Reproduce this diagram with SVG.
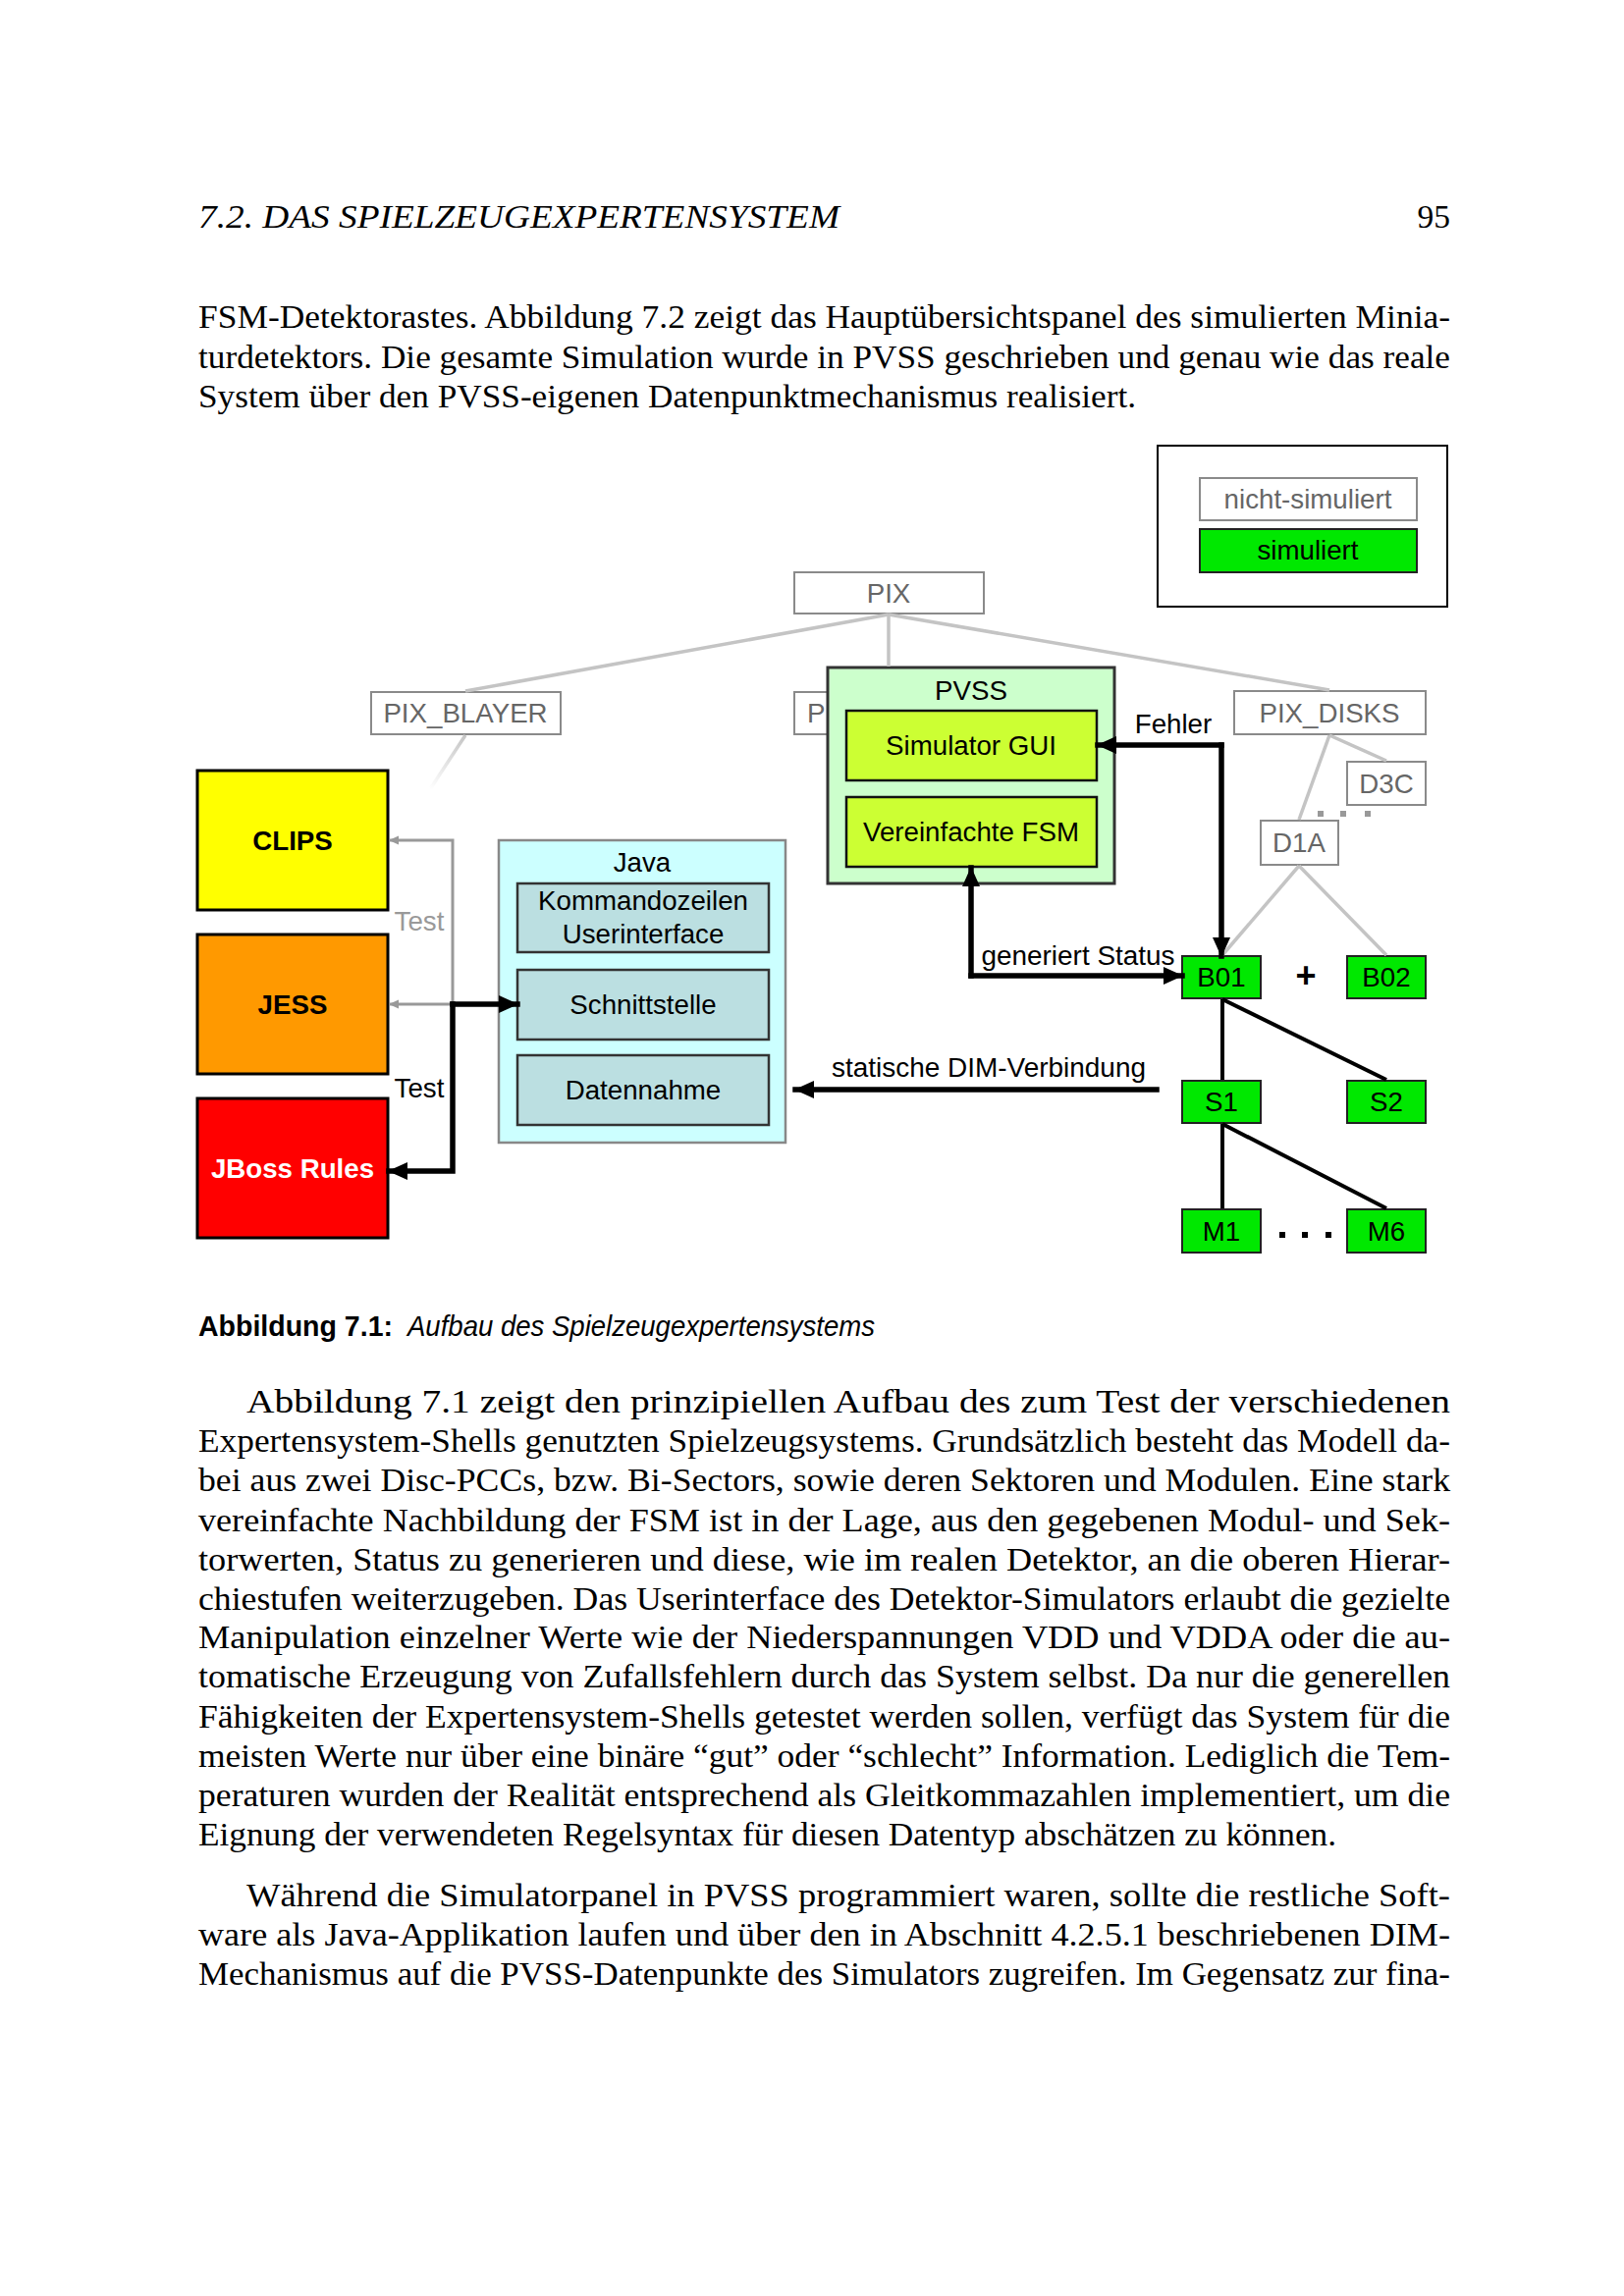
<svg xmlns="http://www.w3.org/2000/svg" width="1654" height="2339" viewBox="0 0 1654 2339">
<style>
.body{font-family:"Liberation Serif","DejaVu Serif",serif;font-size:33.5px;fill:#000}
.hdr{font-family:"Liberation Serif","DejaVu Serif",serif;font-size:33.5px;font-style:italic;fill:#000}
.capb{font-family:"Liberation Sans","DejaVu Sans",sans-serif;font-size:30px;font-weight:bold;fill:#000}
.capi{font-family:"Liberation Sans","DejaVu Sans",sans-serif;font-size:30px;font-style:italic;fill:#000}
.lbl{font-family:"Liberation Sans","DejaVu Sans",sans-serif;font-size:27.7px;fill:#000;text-anchor:middle}
.glbl{font-family:"Liberation Sans","DejaVu Sans",sans-serif;font-size:27.7px;fill:#666;text-anchor:middle}
.bl{font-family:"Liberation Sans","DejaVu Sans",sans-serif;font-size:27.7px;font-weight:bold;text-anchor:middle}
.tree{fill:#fff;stroke:#8a8a8a;stroke-width:2}
.grn{fill:#00e800;stroke:#222;stroke-width:2}
.jin{fill:#bbdfe1;stroke:#333;stroke-width:2.5}
.pin{fill:#ccff33;stroke:#111;stroke-width:2.5}
.gl{stroke:#c4c4c4;stroke-width:3.5;fill:none}
.kl{stroke:#000;stroke-width:4;fill:none}
.ka{stroke:#000;stroke-width:5.5;fill:none;stroke-linecap:square}
.ga{stroke:#999;stroke-width:3;fill:none}
</style>
<defs>
<marker id="ah" markerUnits="userSpaceOnUse" viewBox="0 0 20 20" refX="19" refY="10" markerWidth="20" markerHeight="20" orient="auto"><path d="M0,1 L20,10 L0,19 Z" fill="#000"/></marker>
<marker id="gah" markerUnits="userSpaceOnUse" viewBox="0 0 10 10" refX="9" refY="5" markerWidth="10" markerHeight="10" orient="auto"><path d="M0,0.5 L10,5 L0,9.5 Z" fill="#999"/></marker>
<linearGradient id="fade" gradientUnits="userSpaceOnUse" x1="474" y1="748" x2="438" y2="804"><stop offset="0" stop-color="#c4c4c4"/><stop offset="1" stop-color="#c4c4c4" stop-opacity="0"/></linearGradient>
</defs>

<!-- page text -->
<g id="page-header">
<text class="hdr" x="202" y="232" textLength="653" lengthAdjust="spacingAndGlyphs">7.2.  DAS SPIELZEUGEXPERTENSYSTEM</text>
<text class="body" x="1477" y="232" text-anchor="end">95</text>
</g>
<g id="para1">
<text class="body" x="202" y="334" textLength="1275" lengthAdjust="spacingAndGlyphs">FSM-Detektorastes. Abbildung 7.2 zeigt das Hauptübersichtspanel des simulierten Minia-</text>
<text class="body" x="202" y="375" textLength="1275" lengthAdjust="spacingAndGlyphs">turdetektors. Die gesamte Simulation wurde in PVSS geschrieben und genau wie das reale</text>
<text class="body" x="202" y="415" textLength="955" lengthAdjust="spacingAndGlyphs">System über den PVSS-eigenen Datenpunktmechanismus realisiert.</text>
</g>

<!-- legend -->
<g id="legend">
<rect x="1179" y="454" width="295" height="164" fill="#fff" stroke="#000" stroke-width="2"/>
<rect class="tree" x="1222" y="487" width="221" height="43"/>
<text class="glbl" x="1332" y="518">nicht-simuliert</text>
<rect class="grn" x="1222" y="539" width="221" height="44"/>
<text class="lbl" x="1332" y="570">simuliert</text>
</g>

<!-- tree nodes -->
<g id="node-pix"><rect class="tree" x="809" y="583" width="193" height="42"/><text class="glbl" x="905" y="614">PIX</text></g>
<g id="node-pix-blayer"><rect class="tree" x="378" y="705" width="193" height="43"/><text class="glbl" x="474" y="736">PIX_BLAYER</text></g>
<g id="node-pi"><rect class="tree" x="809" y="705" width="193" height="43"/><text class="glbl" x="822" y="736" style="text-anchor:start">PI</text></g>
<g id="node-pix-disks"><rect class="tree" x="1257" y="704" width="195" height="44"/><text class="glbl" x="1354" y="736">PIX_DISKS</text></g>
<g id="node-d3c"><rect class="tree" x="1372" y="776" width="80" height="44"/><text class="glbl" x="1412" y="808">D3C</text></g>
<g id="node-d1a"><rect class="tree" x="1284" y="836" width="79" height="45"/><text class="glbl" x="1323" y="868">D1A</text></g>
<g id="dots-d">
<rect x="1342" y="826" width="6" height="6" fill="#999"/><rect x="1365" y="826" width="6" height="6" fill="#999"/><rect x="1390" y="826" width="6" height="6" fill="#999"/>
</g>

<!-- PVSS -->
<g id="node-pvss">
<rect x="843" y="680" width="292" height="220" fill="#ccffcc" stroke="#333" stroke-width="3"/>
<text class="lbl" x="989" y="713">PVSS</text>
</g>
<g id="node-simgui"><rect class="pin" x="862" y="724" width="255" height="71"/><text class="lbl" x="989" y="769">Simulator GUI</text></g>
<g id="node-fsm"><rect class="pin" x="862" y="812" width="255" height="71"/><text class="lbl" x="989" y="857">Vereinfachte FSM</text></g>

<!-- Java -->
<g id="node-java">
<rect x="508" y="856" width="292" height="308" fill="#ccffff" stroke="#888" stroke-width="2.5"/>
<text class="lbl" x="654" y="888">Java</text>
</g>
<g id="node-kommando"><rect class="jin" x="527" y="900" width="256" height="70"/><text class="lbl" x="655" y="927">Kommandozeilen</text><text class="lbl" x="655" y="961">Userinterface</text></g>
<g id="node-schnitt"><rect class="jin" x="527" y="988" width="256" height="71"/><text class="lbl" x="655" y="1033">Schnittstelle</text></g>
<g id="node-daten"><rect class="jin" x="527" y="1075" width="256" height="71"/><text class="lbl" x="655" y="1120">Datennahme</text></g>

<!-- expert systems -->
<g id="node-clips"><rect x="201" y="785" width="194" height="142" fill="#ffff00" stroke="#000" stroke-width="3"/><text class="bl" x="298" y="866" fill="#000">CLIPS</text></g>
<g id="node-jess"><rect x="201" y="952" width="194" height="142" fill="#ff9900" stroke="#000" stroke-width="3"/><text class="bl" x="298" y="1033" fill="#000">JESS</text></g>
<g id="node-jboss"><rect x="201" y="1119" width="194" height="142" fill="#ff0000" stroke="#000" stroke-width="3"/><text class="bl" x="298" y="1200" fill="#fff">JBoss Rules</text></g>

<!-- simulated nodes -->
<g id="node-b01"><rect class="grn" x="1204" y="974" width="80" height="43"/><text class="lbl" x="1244" y="1005">B01</text></g>
<g id="node-b02"><rect class="grn" x="1372" y="974" width="80" height="43"/><text class="lbl" x="1412" y="1005">B02</text></g>
<text id="plus" x="1330" y="1006" font-family="Liberation Sans, sans-serif" font-size="36" font-weight="bold" text-anchor="middle">+</text>
<g id="node-s1"><rect class="grn" x="1204" y="1101" width="80" height="43"/><text class="lbl" x="1244" y="1132">S1</text></g>
<g id="node-s2"><rect class="grn" x="1372" y="1101" width="80" height="43"/><text class="lbl" x="1412" y="1132">S2</text></g>
<g id="node-m1"><rect class="grn" x="1204" y="1232" width="80" height="44"/><text class="lbl" x="1244" y="1264">M1</text></g>
<g id="node-m6"><rect class="grn" x="1372" y="1232" width="80" height="44"/><text class="lbl" x="1412" y="1264">M6</text></g>
<g id="dots-m">
<rect x="1303" y="1255" width="6" height="6" fill="#000"/><rect x="1326" y="1255" width="6" height="6" fill="#000"/><rect x="1350" y="1255" width="6" height="6" fill="#000"/>
</g>

<!-- connectors -->
<g id="connectors">
<line class="gl" x1="905" y1="626" x2="474" y2="704"/>
<line class="gl" x1="905" y1="626" x2="905" y2="679"/>
<line class="gl" x1="905" y1="626" x2="1354" y2="703"/>
<line x1="474" y1="749" x2="438" y2="804" stroke="url(#fade)" stroke-width="3.5"/>
<line class="gl" x1="1354" y1="749" x2="1323" y2="835"/>
<line class="gl" x1="1354" y1="749" x2="1412" y2="775"/>
<line class="gl" x1="1323" y1="882" x2="1245" y2="973"/>
<line class="gl" x1="1323" y1="882" x2="1412" y2="973"/>
<line class="kl" x1="1245" y1="1018" x2="1245" y2="1100"/>
<line class="kl" x1="1245" y1="1018" x2="1412" y2="1100"/>
<line class="kl" x1="1245" y1="1145" x2="1245" y2="1231"/>
<line class="kl" x1="1245" y1="1145" x2="1412" y2="1231"/>
<path class="ga" d="M461,1023 V856 H397" marker-end="url(#gah)"/>
<path class="ga" d="M461,1023 H397" marker-end="url(#gah)"/>
<path class="ka" d="M461,1023 H527" marker-end="url(#ah)"/>
<path class="ka" d="M461,1023 V1193 H396" marker-end="url(#ah)"/>
<path class="ka" d="M1244,759 H1118" marker-end="url(#ah)"/>
<path class="ka" d="M1244,759 V974" marker-end="url(#ah)"/>
<path class="ka" d="M989,994 V884" marker-end="url(#ah)"/>
<path class="ka" d="M989,994 H1204" marker-end="url(#ah)"/>
<path class="ka" d="M1178,1110 H810" marker-end="url(#ah)"/>
<text class="glbl" x="427" y="948" style="fill:#999">Test</text>
<text class="lbl" x="427" y="1118">Test</text>
<text class="lbl" x="1195" y="747">Fehler</text>
<text class="lbl" x="1098" y="983" textLength="197" lengthAdjust="spacingAndGlyphs">generiert Status</text>
<text class="lbl" x="1007" y="1097" textLength="320" lengthAdjust="spacingAndGlyphs">statische DIM-Verbindung</text>
</g>

<!-- caption -->
<g id="caption">
<text class="capb" x="202" y="1361" textLength="198" lengthAdjust="spacingAndGlyphs">Abbildung 7.1:</text>
<text class="capi" x="415" y="1361" textLength="476" lengthAdjust="spacingAndGlyphs">Aufbau des Spielzeugexpertensystems</text>
</g>

<g id="para2">
<text class="body" x="251" y="1439" textLength="1226" lengthAdjust="spacingAndGlyphs">Abbildung 7.1 zeigt den prinzipiellen Aufbau des zum Test der verschiedenen</text>
<text class="body" x="202" y="1479" textLength="1275" lengthAdjust="spacingAndGlyphs">Expertensystem-Shells genutzten Spielzeugsystems. Grundsätzlich besteht das Modell da-</text>
<text class="body" x="202" y="1519" textLength="1275" lengthAdjust="spacingAndGlyphs">bei aus zwei Disc-PCCs, bzw. Bi-Sectors, sowie deren Sektoren und Modulen. Eine stark</text>
<text class="body" x="202" y="1560" textLength="1275" lengthAdjust="spacingAndGlyphs">vereinfachte Nachbildung der FSM ist in der Lage, aus den gegebenen Modul- und Sek-</text>
<text class="body" x="202" y="1600" textLength="1275" lengthAdjust="spacingAndGlyphs">torwerten, Status zu generieren und diese, wie im realen Detektor, an die oberen Hierar-</text>
<text class="body" x="202" y="1640" textLength="1275" lengthAdjust="spacingAndGlyphs">chiestufen weiterzugeben. Das Userinterface des Detektor-Simulators erlaubt die gezielte</text>
<text class="body" x="202" y="1679" textLength="1275" lengthAdjust="spacingAndGlyphs">Manipulation einzelner Werte wie der Niederspannungen VDD und VDDA oder die au-</text>
<text class="body" x="202" y="1719" textLength="1275" lengthAdjust="spacingAndGlyphs">tomatische Erzeugung von Zufallsfehlern durch das System selbst. Da nur die generellen</text>
<text class="body" x="202" y="1760" textLength="1275" lengthAdjust="spacingAndGlyphs">Fähigkeiten der Expertensystem-Shells getestet werden sollen, verfügt das System für die</text>
<text class="body" x="202" y="1800" textLength="1275" lengthAdjust="spacingAndGlyphs">meisten Werte nur über eine binäre “gut” oder “schlecht” Information. Lediglich die Tem-</text>
<text class="body" x="202" y="1840" textLength="1275" lengthAdjust="spacingAndGlyphs">peraturen wurden der Realität entsprechend als Gleitkommazahlen implementiert, um die</text>
<text class="body" x="202" y="1880" textLength="1159" lengthAdjust="spacingAndGlyphs">Eignung der verwendeten Regelsyntax für diesen Datentyp abschätzen zu können.</text>
</g>
<g id="para3">
<text class="body" x="251" y="1942" textLength="1226" lengthAdjust="spacingAndGlyphs">Während die Simulatorpanel in PVSS programmiert waren, sollte die restliche Soft-</text>
<text class="body" x="202" y="1982" textLength="1275" lengthAdjust="spacingAndGlyphs">ware als Java-Applikation laufen und über den in Abschnitt 4.2.5.1 beschriebenen DIM-</text>
<text class="body" x="202" y="2022" textLength="1275" lengthAdjust="spacingAndGlyphs">Mechanismus auf die PVSS-Datenpunkte des Simulators zugreifen. Im Gegensatz zur fina-</text>
</g>
</svg>
